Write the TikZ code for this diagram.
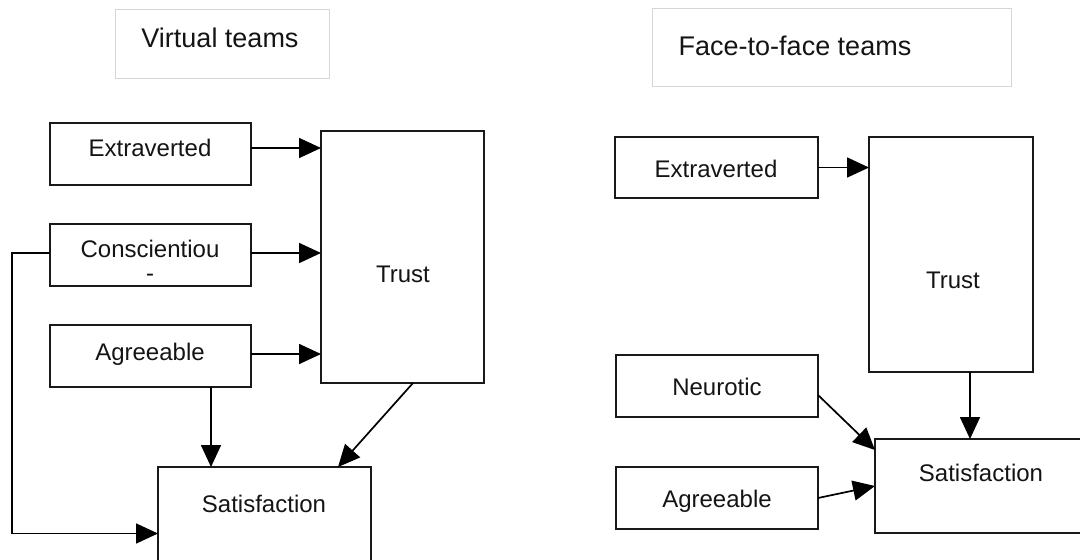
\documentclass[tikz,border=0pt]{standalone}
\usepackage{fontspec}
\setmainfont{Liberation Sans}
\usetikzlibrary{arrows.meta,calc}
\tikzset{
  box/.style={draw=black!90, line width=2.1pt, rectangle, inner sep=0pt, outer sep=0pt, anchor=north west},
  titlebox/.style={draw=black!16, line width=0.9pt, rectangle, inner sep=0pt, outer sep=0pt, anchor=north west},
  lbl/.style={font=\fontsize{24}{26}\selectfont, text=black!92, anchor=base, inner sep=0pt},
  ttl/.style={font=\fontsize{27}{30}\selectfont, text=black!92, anchor=base, inner sep=0pt},
  link/.style={line width=1.7pt, -{Triangle[length=22pt,width=20pt]}},
}
\begin{document}
\begin{tikzpicture}[x=1pt,y=-1pt]
\useasboundingbox (0,0) rectangle (1080,560);

% ---------- virtual teams ----------
\node[titlebox, minimum width=214pt, minimum height=69pt] (vtitle) at (115,9) {};
\node[ttl] (vtitletext) at (220,47) {Virtual teams};

\node[box, minimum width=201pt, minimum height=62pt] (ve) at (50,123) {};
\node[box, minimum width=201pt, minimum height=62pt] (vc) at (50,224) {};
\node[box, minimum width=201pt, minimum height=62pt] (va) at (50,325) {};
\node[box, minimum width=163pt, minimum height=252pt] (vt) at (321,131) {};
\node[box, minimum width=213pt, minimum height=133pt] (vs) at (158,467) {};

\node[lbl] (vetext) at (150,156) {Extraverted};
\node[lbl] (vctext) at (150,257) {Conscientiou};
\node[lbl] (vcdash) at (150,281) {-};
\node[lbl] (vatext) at (150,360) {Agreeable};
\node[lbl] (vttext) at (403,282) {Trust};
\node[lbl] (vstext) at (264,512) {Satisfaction};

\coordinate (veo) at ([yshift=6pt]ve.east);
\coordinate (vco) at ([yshift=2pt]vc.east);
\coordinate (vao) at ([yshift=2pt]va.east);
\draw[link] (veo) -- (veo -| vt.west);
\draw[link] (vco) -- (vco -| vt.west);
\draw[link] (vao) -- (vao -| vt.west);

\coordinate (vad) at ([xshift=60.5pt]va.south);
\draw[link] (vad) -- (vad |- vs.north);

\coordinate (vtd) at ([xshift=10.5pt]vt.south);
\coordinate (vsin) at ([xshift=73.5pt]vs.north);
\draw[link] (vtd) -- (vsin);

\coordinate (vcl) at ([yshift=2pt]vc.west);
\draw[link] (vcl) -- ++(-38,0) |- (vs.west);

% ---------- face-to-face teams ----------
\node[titlebox, minimum width=359pt, minimum height=78pt] (ftitle) at (652,8) {};
\node[ttl] (ftitletext) at (795,55) {Face-to-face teams};

\node[box, minimum width=203pt, minimum height=61pt] (fe) at (615,137) {};
\node[box, minimum width=164pt, minimum height=235pt] (ft) at (869,137) {};
\node[box, minimum width=202pt, minimum height=62pt] (fn) at (616,355) {};
\node[box, minimum width=202pt, minimum height=62pt] (fa) at (616,467) {};
\node[box, minimum width=215pt, minimum height=94pt] (fs) at (875,439) {};

\node[lbl] (fetext) at (716,177) {Extraverted};
\node[lbl] (fttext) at (953,288) {Trust};
\node[lbl] (fntext) at (717,395) {Neurotic};
\node[lbl] (fatext) at (717,507) {Agreeable};
\node[lbl] (fstext) at (981,481.5) {Satisfaction};

\draw[link] (fe.east) -- (fe.east -| ft.west);

\coordinate (ftd) at ([xshift=19pt]ft.south);
\draw[link] (ftd) -- (ftd |- fs.north);

\coordinate (fno) at ([yshift=-9pt]fn.east);
\coordinate (fsn) at ([yshift=-11pt]fs.north west);
\draw[link] (fno) -- (fsn);

\draw[link] (fa.east) -- (fs.west);
\end{tikzpicture}
\end{document}
